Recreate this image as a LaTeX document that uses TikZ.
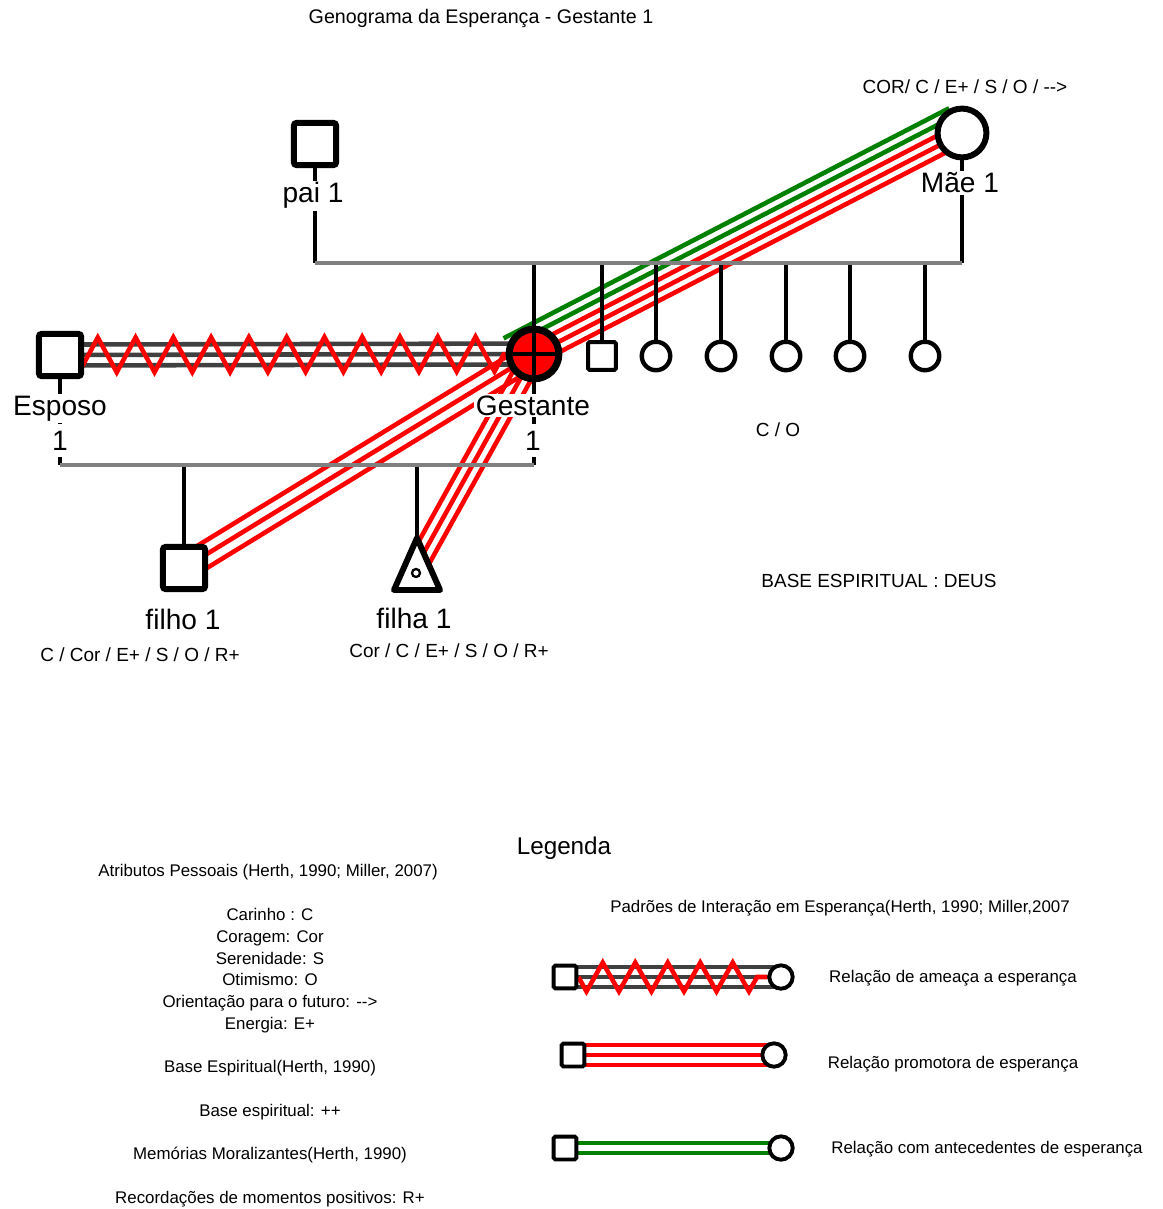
\documentclass[tikz,border=0pt]{standalone}
\usepackage{fontspec}
\setmainfont{Liberation Sans}
\usepackage{tikz}
\usetikzlibrary{calc,decorations.pathmorphing}
\pgfdeclarelayer{bg}
\pgfsetlayers{bg,main}
\definecolor{threatgray}{RGB}{64,64,64}
\definecolor{linegray}{RGB}{128,128,128}
\definecolor{hopegreen}{RGB}{0,128,0}
\tikzstyle{bigmale} = [draw=black, fill=white, line width=3.4pt, rectangle, rounded corners=1.5pt, minimum size=24pt, inner sep=0pt]
\tikzstyle{bigfemale} = [draw=black, fill=white, line width=3.4pt, circle, minimum size=27.8pt, inner sep=0pt]
\tikzstyle{gestante} = [draw=black, fill=red, line width=4pt, circle, minimum size=28.3pt, inner sep=0pt,
    path picture={\draw[black, line width=2.8pt] (path picture bounding box.north) -- (path picture bounding box.south)
        (path picture bounding box.west) -- (path picture bounding box.east);}]
\tikzstyle{smallmale} = [draw=black, fill=white, line width=2.3pt, rectangle, rounded corners=1pt, minimum size=15.9pt, inner sep=0pt]
\tikzstyle{smallfemale} = [draw=black, fill=white, line width=2.5pt, circle, minimum size=16.2pt, inner sep=0pt]
\tikzstyle{legmale} = [draw=black, fill=white, line width=2.2pt, rectangle, rounded corners=1pt, minimum size=13pt, inner sep=0pt]
\tikzstyle{legfemale} = [draw=black, fill=white, line width=2.2pt, circle, minimum size=13.3pt, inner sep=0pt]
\tikzstyle{famline} = [black, line width=2.4pt]
\tikzstyle{linkline} = [linegray, line width=2.8pt]
\tikzstyle{relline} = [line width=2.6pt]
\tikzstyle{nametext} = [fill=white, inner sep=1pt, anchor=base, font=\fontsize{16}{18}\selectfont]
\tikzstyle{charttext} = [inner sep=0pt, anchor=base, font=\fontsize{10.8}{13}\selectfont]
\tikzstyle{legtext} = [inner sep=0pt, anchor=base, font=\fontsize{9.6}{12}\selectfont]

\begin{document}
\begin{tikzpicture}[x=0.02cm, y=-0.02cm]
\useasboundingbox (0,0) rectangle (1162,1209);

\node[charttext, font=\fontsize{11.2}{13}\selectfont] (title) at (481,24) {Genograma da Esperança - Gestante 1};

% people
\node[bigmale] (pai) at (315,144) {};
\node[bigfemale] (mae) at (962,133) {};
\node[bigmale] (esp) at (60,355) {};
\node[gestante] (gest) at (534,354) {};
\node[smallmale] (s1) at (602,356) {};
\foreach \x [count=\i from 2] in {656,721,786,850,925}
    \node[smallfemale] (s\i) at (\x,356) {};
\node[bigmale] (filho) at (184,568) {};
\coordinate (filha) at (417,565);
\draw[line width=3.4pt, fill=white, line join=round] (417,538) -- (440,590) -- (394,590) -- cycle;
\draw[line width=1.3pt] (416,573) circle (4);
\coordinate (pl) at (315,263);
\coordinate (cl) at (60,465);

% legend symbols
\node[legmale] (lsq1) at (565,977) {};
\node[legfemale] (lci1) at (781,977) {};
\node[legmale] (lsq2) at (573,1055) {};
\node[legfemale] (lci2) at (774,1055) {};
\node[legmale] (lsq3) at (565,1148) {};
\node[legfemale] (lci3) at (781,1148) {};

\begin{pgfonlayer}{bg}
% Esposo - Gestante
\foreach \o in {-10.5,0,10.5}
    \draw[relline, threatgray] ($(esp)!{\o*0.567pt}!90:(gest)$) -- ($(gest)!{\o*0.567pt}!-90:(esp)$);
\draw[relline, red, decorate, decoration={zigzag, mirror, segment length=21.5pt, amplitude=9.9pt}]
    ($(esp)+(9.5,0)$) -- (gest);
% Gestante - Mae 1
\coordinate (gback) at ($(gest)!-11.3pt!(mae)$);
\foreach \o in {28,18.5}
    \draw[relline, hopegreen] ($(gback)!{\o*0.567pt}!90:(mae)$) -- ($(mae)!{\o*0.567pt}!-90:(gback)$);
\foreach \o in {9,-0.5,-10}
    \draw[relline, red] ($(gback)!{\o*0.567pt}!90:(mae)$) -- ($(mae)!{\o*0.567pt}!-90:(gback)$);
% Gestante - filhos
\foreach \o in {12,0,-12}
    \draw[relline, red] ($(filho)!{\o*0.567pt}!90:(gest)$) -- ($(gest)!{\o*0.567pt}!-90:(filho)$);
\foreach \o in {10,0,-10}
    \draw[relline, red] ($(filha)!{\o*0.567pt}!90:(gest)$) -- ($(gest)!{\o*0.567pt}!-90:(filha)$);

% family lines
\draw[famline] (pai) -- (pai |- pl);
\draw[famline] (mae) -- (mae |- pl);
\draw[famline] (gest |- pl) -- (gest |- cl);
\draw[famline] (esp) -- (esp |- cl);
\draw[famline] (filho |- cl) -- (filho);
\draw[famline] (filha |- cl) -- (filha);
\foreach \n in {s1,s2,s3,s4,s5,s6}
    \draw[famline] (\n |- pl) -- (\n);
\draw[linkline] (pai |- pl) -- (mae |- pl);
\draw[linkline] (esp |- cl) -- (gest |- cl);

% legend lines
\foreach \o in {-10,0,10}
    \draw[relline, threatgray] ($(lsq1)!{\o*0.567pt}!90:(lci1)$) -- ($(lci1)!{\o*0.567pt}!-90:(lsq1)$);
\draw[relline, red, decorate, decoration={zigzag, mirror, segment length=18.5pt, amplitude=8.2pt}] (lsq1) -- (lci1);
\foreach \o in {-10,0,10}
    \draw[relline, red] ($(lsq2)!{\o*0.567pt}!90:(lci2)$) -- ($(lci2)!{\o*0.567pt}!-90:(lsq2)$);
\foreach \o in {-5,5}
    \draw[relline, hopegreen] ($(lsq3)!{\o*0.567pt}!90:(lci3)$) -- ($(lci3)!{\o*0.567pt}!-90:(lsq3)$);
\end{pgfonlayer}

% names
\node[nametext] (pailab) at (313,203) {pai 1};
\node[nametext] (maelab) at (960,193) {Mãe 1};
\node[nametext] (esplab) at (60,415) {Esposo};
\node[nametext, text height=14pt, text depth=3pt] (espnum) at (60,450) {1};
\node[nametext] (gestlab) at (533,415) {Gestante};
\node[nametext, text height=14pt, text depth=3pt] (gestnum) at (533,450) {1};
\node[nametext] (filholab) at (183,629) {filho 1};
\node[nametext] (filhalab) at (414,628) {filha 1};

% attributes
\node[charttext] (maeattr) at (965,94) {COR/ C / E+ / S / O / -{}->};
\node[charttext] (sibattr) at (778,436) {C / O};
\node[charttext] (base) at (879,587) {BASE ESPIRITUAL : DEUS};
\node[charttext] (filhoattr) at (140,661) {C / Cor / E+ / S / O / R+};
\node[charttext] (filhaattr) at (449,657) {Cor / C / E+ / S / O / R+};

% legend
\node[charttext, font=\fontsize{13.8}{16}\selectfont] (legenda) at (564,854) {Legenda};
\node[legtext] (leg1) at (268,876) {Atributos Pessoais (Herth, 1990; Miller, 2007)};
\foreach \y/\t [count=\i from 2] in {920/{Carinho : C}, 942/{Coragem: Cor}, 964/{Serenidade: S},
    985/{Otimismo: O}, 1007/{Orientação para o futuro: -{}->}, 1029/{Energia: E+},
    1072/{Base Espiritual(Herth, 1990)}, 1116/{Base espiritual: ++},
    1159/{Memórias Moralizantes(Herth, 1990)}, 1203/{Recordações de momentos positivos: R+}}
    \node[legtext] (leg\i) at (270,\y) {\t};
\node[legtext] (padroes) at (840,912) {Padrões de Interação em Esperança(Herth, 1990; Miller,2007};
\node[legtext] (lt1) at (953,982) {Relação de ameaça a esperança};
\node[legtext] (lt2) at (953,1068) {Relação promotora de esperança};
\node[legtext] (lt3) at (987,1153) {Relação com antecedentes de esperança};
\end{tikzpicture}
\end{document}
